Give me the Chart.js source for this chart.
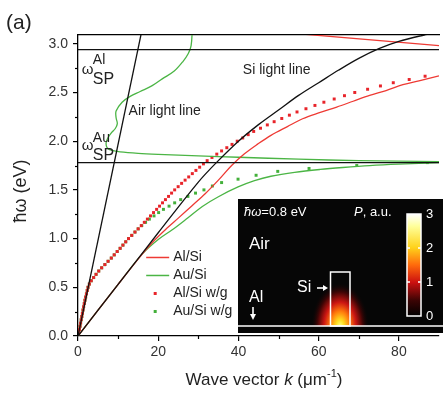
<!DOCTYPE html>
<html><head><meta charset="utf-8">
<script src="https://cdn.jsdelivr.net/npm/chart.js@4/dist/chart.umd.min.js"></script>
<style>html,body{margin:0;padding:0;background:#fff;overflow:hidden}canvas{display:block}</style>
</head><body>
<canvas id="c" width="443" height="394"></canvas>
<script>
// ---------------- data ----------------
const xTickValues = [0, 20, 40, 60, 80];
const xMinorValues = [10, 30, 50, 70];
const yTickValues = [0.0, 0.5, 1.0, 1.5, 2.0, 2.5, 3.0];
const yMinorValues = [0.25, 0.75, 1.25, 1.75, 2.25, 2.75];

const airLineK = [0, 16.5];
const airLineE = [0, 3.25];

const siLineK = [0, 10, 20, 30, 34.5, 40, 45, 50, 55, 60, 65, 70, 75, 80, 86.3, 92];
const siLineE = [0, 0.53, 1.06, 1.58, 1.78, 2.0, 2.17, 2.32, 2.47, 2.6, 2.73, 2.85, 2.95, 3.025, 3.09, 3.14];

const alSpK = [0, 90];
const alSpE = [2.94, 2.94];
const auSpK = [0, 90];
const auSpE = [1.78, 1.78];

const redLineK = [0, 10, 16, 19, 22, 25, 28.5, 31.7, 35, 38.3, 41.5, 44.8, 48.1, 52.2, 56, 60, 64.5, 68.6, 72.7, 76.8, 81, 85, 90];
const redLineE = [0, 0.53, 0.84, 0.98, 1.1, 1.21, 1.34, 1.46, 1.6, 1.75, 1.87, 1.97, 2.06, 2.15, 2.23, 2.29, 2.35, 2.41, 2.47, 2.52, 2.58, 2.62, 2.67];

const redTopK = [55, 90];
const redTopE = [3.103, 2.98];

const greenLineK = [0, 10, 16, 20, 23.5, 27, 31, 35, 39.9, 44, 48.1, 54, 60.4, 66, 72.7, 80, 90];
const greenLineE = [0, 0.53, 0.84, 0.99, 1.09, 1.2, 1.33, 1.43, 1.53, 1.595, 1.64, 1.68, 1.71, 1.73, 1.75, 1.765, 1.78];

const greenUpK = [28.5, 28.2, 27.5, 26.2, 24, 21, 18.5, 15.5, 13, 11, 9.5, 9.5, 9.8, 9.3, 8.4, 7.4, 7.0, 7.3, 8.5, 10.5, 15, 20, 30, 40, 55, 70, 90];
const greenUpE = [3.15, 2.98, 2.9, 2.82, 2.72, 2.64, 2.57, 2.51, 2.46, 2.40, 2.31, 2.24, 2.18, 2.13, 2.09, 2.03, 1.98, 1.93, 1.905, 1.89, 1.875, 1.865, 1.85, 1.835, 1.815, 1.80, 1.79];

const redDotsK = [0.17,0.33,0.50,0.65,0.80,0.95,1.10,1.25,1.40,1.57,1.73,1.90,2.10,2.30,2.50,2.83,3.30,3.90,4.50,5.17,5.90,6.70,7.50,8.30,9.03,9.77,10.5,11.2,11.9,12.6,13.4,14.2,15.0,15.77,16.53,17.3,18.07,18.83,19.6,20.33,21.07,21.8,22.57,23.33,24.1,24.97,25.83,26.7,27.6,28.5,29.4,30.33,31.27,32.2,33.4,34.6,35.8,37.1,38.4,39.7,41.07,42.43,43.8,45.5,47.2,48.9,50.8,52.7,54.6,56.83,59.07,61.3,63.87,66.43,69.0,72.2,75.4,78.6,82.57,86.53];
const redDotsE = [0.033,0.067,0.100,0.133,0.167,0.200,0.233,0.267,0.300,0.333,0.367,0.400,0.433,0.467,0.500,0.533,0.567,0.600,0.633,0.667,0.700,0.733,0.767,0.800,0.833,0.867,0.900,0.933,0.967,1.000,1.033,1.067,1.100,1.133,1.167,1.200,1.233,1.267,1.300,1.333,1.367,1.400,1.433,1.467,1.500,1.533,1.567,1.600,1.633,1.667,1.700,1.733,1.767,1.800,1.833,1.867,1.900,1.933,1.967,2.000,2.033,2.067,2.100,2.133,2.167,2.200,2.233,2.267,2.300,2.333,2.367,2.400,2.433,2.467,2.500,2.533,2.567,2.600,2.633,2.667];

const greenDotsK = [0.17,0.33,0.50,0.65,0.80,0.95,1.10,1.25,1.40,1.57,1.73,1.90,2.10,2.30,2.50,2.83,3.30,3.90,4.50,5.17,5.90,6.70,7.50,8.30,9.03,9.77,10.5,11.2,11.9,12.6,13.4,14.2,15.0,15.9,16.85,17.8,18.95,20.1,21.3,22.7,24.1,25.6,27.4,29.3,31.4,33.5,35.8,39.9,44.4,49.8,57.6,69.5,87.1];
const greenDotsE = [0.033,0.067,0.100,0.133,0.167,0.200,0.233,0.267,0.300,0.333,0.367,0.400,0.433,0.467,0.500,0.533,0.567,0.600,0.633,0.667,0.700,0.733,0.767,0.800,0.833,0.867,0.900,0.933,0.967,1.000,1.033,1.067,1.100,1.133,1.167,1.200,1.233,1.267,1.300,1.333,1.367,1.400,1.433,1.467,1.500,1.540,1.575,1.610,1.650,1.690,1.720,1.750,1.780];

const seriesLabels = ['Al/Si', 'Au/Si', 'Al/Si w/g', 'Au/Si w/g'];

// ---------------- styling ----------------
const FONT = '"Liberation Sans", Arial, sans-serif';
const RED = '#ee3a34', GREEN = '#4bb545', RED_DOT = '#e8242a', GREEN_DOT = '#43b03a', BLACK = '#111';
const INSET = { k0: 40, e0: 0.031, e1: 1.406 };

function pts(ks, es) { return ks.map((k, i) => ({ x: k, y: es[i] })); }
function lineDs(label, ks, es, color, tension) {
  return { label, data: pts(ks, es), showLine: true, borderColor: color, backgroundColor: color,
           borderWidth: 1.3, pointRadius: 0, tension: tension || 0, fill: false };
}
function dotDs(label, ks, es, color) {
  return { label, data: pts(ks, es), showLine: false, pointStyle: 'rect', pointRadius: 2.1,
           pointBorderWidth: 0, borderWidth: 0, backgroundColor: color, borderColor: color };
}

const datasets = [
  lineDs('air', airLineK, airLineE, BLACK, 0),
  lineDs('si', siLineK, siLineE, BLACK, 0.35),
  lineDs('alsp', alSpK, alSpE, BLACK, 0),
  lineDs('ausp', auSpK, auSpE, BLACK, 0),
  lineDs(seriesLabels[0], redLineK, redLineE, RED, 0.35),
  lineDs('redtop', redTopK, redTopE, RED, 0),
  lineDs(seriesLabels[1], greenLineK, greenLineE, GREEN, 0.35),
  lineDs('greenup', greenUpK, greenUpE, GREEN, 0.35),
  dotDs(seriesLabels[2], redDotsK, redDotsE, RED_DOT),
  dotDs(seriesLabels[3], greenDotsK, greenDotsE, GREEN_DOT),
];

function text(ctx, s, x, y, font, color, align, base) {
  ctx.font = font; ctx.fillStyle = color || '#222';
  ctx.textAlign = align || 'left'; ctx.textBaseline = base || 'alphabetic';
  ctx.fillText(s, x, y);
  return ctx.measureText(s).width;
}

const overlay = {
  id: 'overlay',
  afterDatasetsDraw(chart) {
    const { ctx, scales: { x, y } } = chart;
    ctx.save();
    const px = k => x.getPixelForValue(k), py = e => y.getPixelForValue(e);
    // omega_SP^Al
    let ox = px(0.95), oy = py(2.69);
    text(ctx, 'ω', ox, oy, '15px ' + FONT, '#222');
    text(ctx, 'Al', ox + 11, oy - 10, '14px ' + FONT, '#222');
    text(ctx, 'SP', ox + 11, oy + 10, '16px ' + FONT, '#222');
    // omega_SP^Au
    ox = px(0.95); oy = py(1.91);
    text(ctx, 'ω', ox, oy, '15px ' + FONT, '#222');
    text(ctx, 'Au', ox + 11, oy - 8, '14px ' + FONT, '#222');
    text(ctx, 'SP', ox + 11, oy + 10, '16px ' + FONT, '#222');
    text(ctx, 'Air light line', px(12.6), py(2.31), '14px ' + FONT, '#222', 'left', 'middle');
    text(ctx, 'Si light line', px(41.1), py(2.73), '14px ' + FONT, '#222', 'left', 'middle');

    // ----- legend -----
    const lx = px(17), ly0 = py(0.806), step = 18;
    const metas = chart.data.datasets;
    seriesLabels.forEach((lab, i) => {
      const ds = metas.find(d => d.label === lab);
      const yy = ly0 + i * step;
      if (ds.showLine) {
        ctx.strokeStyle = ds.borderColor; ctx.lineWidth = 1.5;
        ctx.beginPath(); ctx.moveTo(lx, yy); ctx.lineTo(lx + 23, yy); ctx.stroke();
      } else {
        ctx.fillStyle = ds.backgroundColor;
        ctx.fillRect(lx + 7.5, yy - 1.5, 3, 3);
      }
      text(ctx, lab, lx + 27, yy, '14px ' + FONT, '#222', 'left', 'middle');
    });

    // ----- inset -----
    const L = Math.round(px(INSET.k0)), T = Math.round(py(INSET.e1)), B = Math.round(py(INSET.e0));
    const R = chart.width;
    ctx.fillStyle = '#060606';
    ctx.fillRect(L, T, R - L, B - T);
    const surf = T + 127;
    // glow
    ctx.save();
    ctx.beginPath(); ctx.rect(L, T, R - L, surf - T); ctx.clip();
    ctx.translate(L + 102, surf);
    ctx.scale(1, 1.5);
    const g = ctx.createRadialGradient(0, 0, 0, 0, 0, 29);
    g.addColorStop(0, '#ffff80');
    g.addColorStop(0.14, '#ffdc20');
    g.addColorStop(0.34, '#ff7a0c');
    g.addColorStop(0.55, '#cc1612');
    g.addColorStop(0.78, '#420505');
    g.addColorStop(1, 'rgba(6,6,6,0)');
    ctx.fillStyle = g;
    ctx.fillRect(-40, -40, 80, 80);
    ctx.restore();
    // surface line
    ctx.strokeStyle = '#fff'; ctx.lineWidth = 1.6;
    ctx.beginPath(); ctx.moveTo(L, surf); ctx.lineTo(R, surf); ctx.stroke();
    // Si ridge
    ctx.lineWidth = 1.5;
    ctx.strokeRect(L + 92.5, T + 73, 19.5, surf - T - 73);
    // labels
    const W = '#fff';
    let w = text(ctx, 'ħω', L + 6, T + 13, 'italic 13px ' + FONT, W, 'left', 'middle');
    text(ctx, '=0.8 eV', L + 6 + w, T + 13, '13px ' + FONT, W, 'left', 'middle');
    w = text(ctx, 'P', L + 116, T + 13, 'italic 13px ' + FONT, W, 'left', 'middle');
    text(ctx, ', a.u.', L + 116 + w, T + 13, '13px ' + FONT, W, 'left', 'middle');
    text(ctx, 'Air', L + 11, T + 45, '17px ' + FONT, W, 'left', 'middle');
    text(ctx, 'Si', L + 59, T + 89, '16px ' + FONT, W, 'left', 'middle');
    ctx.strokeStyle = W; ctx.fillStyle = W; ctx.lineWidth = 1.6;
    ctx.beginPath(); ctx.moveTo(L + 79, T + 89); ctx.lineTo(L + 86, T + 89); ctx.stroke();
    ctx.beginPath(); ctx.moveTo(L + 90, T + 89); ctx.lineTo(L + 85, T + 86); ctx.lineTo(L + 85, T + 92); ctx.closePath(); ctx.fill();
    text(ctx, 'Al', L + 11, T + 99, '16px ' + FONT, W, 'left', 'middle');
    ctx.beginPath(); ctx.moveTo(L + 15, T + 108); ctx.lineTo(L + 15, T + 116); ctx.stroke();
    ctx.beginPath(); ctx.moveTo(L + 15, T + 121); ctx.lineTo(L + 12, T + 115); ctx.lineTo(L + 18, T + 115); ctx.closePath(); ctx.fill();
    // colour bar
    const cbx = L + 169, cby = T + 15, cbw = 14, cbh = 102;
    const cg = ctx.createLinearGradient(0, cby, 0, cby + cbh);
    cg.addColorStop(0, '#ffffff');
    cg.addColorStop(0.12, '#ffff9a');
    cg.addColorStop(0.33, '#ffd21a');
    cg.addColorStop(0.5, '#ff6a0c');
    cg.addColorStop(0.67, '#cc1010');
    cg.addColorStop(0.85, '#3a0404');
    cg.addColorStop(1, '#000000');
    ctx.fillStyle = cg; ctx.fillRect(cbx, cby, cbw, cbh);
    ctx.strokeStyle = W; ctx.lineWidth = 1.5; ctx.strokeRect(cbx, cby, cbw, cbh);
    ['3', '2', '1', '0'].forEach((s, i) => {
      const yy = cby + i * cbh / 3;
      if (i === 1 || i === 2) {
        ctx.beginPath(); ctx.moveTo(cbx, yy); ctx.lineTo(cbx + 3, yy);
        ctx.moveTo(cbx + cbw - 3, yy); ctx.lineTo(cbx + cbw, yy); ctx.stroke();
      }
      text(ctx, s, cbx + cbw + 5, yy, '13px ' + FONT, W, 'left', 'middle');
    });
    ctx.restore();
  },
  afterDraw(chart) {
    const { ctx, scales: { x, y } } = chart;
    ctx.save();
    // minor ticks
    ctx.strokeStyle = '#000'; ctx.lineWidth = 1.2;
    const ax = x.top, ay = y.right;
    xMinorValues.forEach(v => { const p = Math.round(x.getPixelForValue(v)) + 0.5; ctx.beginPath(); ctx.moveTo(p, ax); ctx.lineTo(p, ax + 3); ctx.stroke(); });
    yMinorValues.forEach(v => { const p = Math.round(y.getPixelForValue(v)) + 0.5; ctx.beginPath(); ctx.moveTo(ay, p); ctx.lineTo(ay - 3, p); ctx.stroke(); });
    // x title
    const parts = [['Wave vector ', '17px '], ['k', 'italic 17px '], [' (μm', '17px ']];
    let total = 0;
    parts.forEach(p => { ctx.font = p[1] + FONT; total += ctx.measureText(p[0]).width; });
    ctx.font = '11px ' + FONT; const supW = ctx.measureText('-1').width;
    ctx.font = '17px ' + FONT; const closeW = ctx.measureText(')').width;
    total += supW + closeW;
    let cx = 264 - total / 2;
    const by = 385;
    parts.forEach(p => { cx += text(ctx, p[0], cx, by, p[1] + FONT, '#222'); });
    cx += text(ctx, '-1', cx, by - 8, '11px ' + FONT, '#222');
    text(ctx, ')', cx, by, '17px ' + FONT, '#222');
    // y title
    ctx.save();
    ctx.translate(26, 191);
    ctx.rotate(-Math.PI / 2);
    text(ctx, 'ħω (eV)', 0, 0, '18px ' + FONT, '#222', 'center', 'alphabetic');
    ctx.restore();
    // panel label
    text(ctx, '(a)', 6, 29, '21px ' + FONT, '#222');
    ctx.restore();
  }
};

new Chart(document.getElementById('c'), {
  type: 'scatter',
  data: { datasets },
  options: {
    responsive: false, animation: false, devicePixelRatio: 1,
    layout: { padding: { top: 35, right: 0, left: 0, bottom: 0 } },
    plugins: { legend: { display: false }, tooltip: { enabled: false } },
    scales: {
      x: {
        type: 'linear', position: 'bottom', min: 0, max: 90,
        afterBuildTicks: s => { s.ticks = xTickValues.map(v => ({ value: v })); },
        ticks: { autoSkip: false, maxRotation: 0, padding: 3, color: '#333', font: { family: FONT, size: 14 } },
        grid: { drawOnChartArea: false, drawTicks: true, tickLength: 5, color: '#000', lineWidth: 1.2 },
        border: { color: '#000', width: 1.3 },
        afterFit: s => { s.height = 58; }
      },
      x2: {
        type: 'linear', position: 'top', min: 0, max: 90,
        ticks: { display: false },
        grid: { display: true, drawOnChartArea: false, drawTicks: false },
        border: { display: true, color: '#000', width: 1.3 },
        afterFit: s => { s.height = 0; }
      },
      y: {
        type: 'linear', min: 0, max: 3.09,
        afterBuildTicks: s => { s.ticks = yTickValues.map(v => ({ value: v })); },
        ticks: { autoSkip: false, padding: 5, color: '#333', font: { family: FONT, size: 14 }, callback: v => Number(v).toFixed(1) },
        grid: { drawOnChartArea: false, drawTicks: true, tickLength: 5, color: '#000', lineWidth: 1.2 },
        border: { color: '#000', width: 1.3 },
        afterFit: s => { s.width = 78; }
      }
    }
  },
  plugins: [overlay]
});
</script>
</body></html>
